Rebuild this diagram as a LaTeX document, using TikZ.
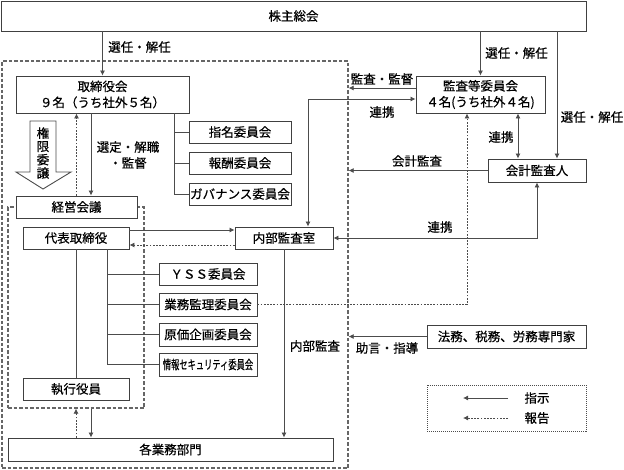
\documentclass[tikz,border=0pt]{standalone}
\usepackage{fontspec}
\setmainfont{Noto Sans CJK JP}[FakeBold=0.5]
\usepackage{graphicx}
\usetikzlibrary{arrows.meta}

\begin{document}
\begin{tikzpicture}
        [x=1pt,y=-1pt,font=\fontsize{12.5}{16}\selectfont]
            \tikzstyle{every node}=[inner sep=0pt]
            \tikzstyle{box}=[draw=black!75, line width=0.9pt, fill=white,
        minimum height=22pt, align=center]
            \tikzstyle{grp}=[draw=black!60, line width=1.3pt, dash pattern=on 3.5pt off 2pt]
            \tikzstyle{wire}=[draw=black!70, line width=0.8pt]
            \tikzstyle{arr}=[wire, -{Latex[length=5pt,width=5pt]}]
            \tikzstyle{rep}=[arr, dash pattern=on 1.8pt off 1.4pt]
            \tikzstyle{both}=[wire, {Latex[length=5pt,width=5pt]}-{Latex[length=5pt,width=5pt]}]
        \useasboundingbox (0,0) rectangle (624,469);
        %-----groups
         \node[grp, minimum width=346pt, minimum height=407pt] (outer) at (175,264.5) {};
         \node[grp, minimum width=136pt, minimum height=201pt] (inner) at (76,307.5) {};
        %-----boxes
         \node[box, minimum width=585pt, minimum height=30pt] (soukai) at (293.5,16) {株主総会};
         \node[box, minimum width=173pt, minimum height=37pt] (torikai) at (102.5,94.5) {取締役会\\９名（うち社外５名）};
         \node[box, minimum width=102pt] (shimei) at (240,132) {指名委員会};
         \node[box, minimum width=102pt] (houshu) at (240,163) {報酬委員会};
         \node[box, minimum width=102pt] (gov) at (240,194) {ガバナンス委員会};
         \node[box, minimum width=121pt] (keiei) at (76.5,207) {経営会議};
         \node[box, minimum width=106pt] (daihyo) at (76,238) {代表取締役};
         \node[box, minimum width=98pt] (naibu) at (284,238) {内部監査室};
         \node[box, minimum width=129pt, minimum height=37pt] (kansatou) at (480.5,94.5) {監査等委員会\\４名(うち社外４名)};
         \node[box, minimum width=98pt, minimum height=23pt] (kaikei) at (537,170.5) {会計監査人};
         \node[box, minimum width=98pt] (yss) at (208,274) {ＹＳＳ委員会};
         \node[box, minimum width=98pt, minimum height=23pt] (gyomu) at (208,304.5) {業務監理委員会};
         \node[box, minimum width=98pt, minimum height=23pt] (genka) at (208,334.5) {原価企画委員会};
         \node[box, minimum width=98pt, minimum height=23pt] (joho) at (208,364.5) {\scalebox{0.66}[1]{情報セキュリティ委員会}};
         \node[box, minimum width=106pt] (shikko) at (76,389) {執行役員};
         \node[box, minimum width=325pt, minimum height=23pt] (kakubu) at (170.5,449.5) {各業務部門};
         \node[box, minimum width=159pt, minimum height=23pt] (senmon) at (506.5,336.5) {法務、税務、労務専門家};
         \node[draw=black!70, line width=0.8pt, dash pattern=on 1pt off 1pt,
        minimum width=159pt, minimum height=46pt] (legend) at (506.5,408) {};

         % kengen arrow
         \draw[draw=black!70, line width=0.9pt, fill=white] (30,121) -- (56,121) -- (56,172) -- (71,172)
        -- (43,189) -- (16,172) -- (30,172) -- cycle;
         \node[align=center, font=\fontsize{12.5}{13.3}\selectfont] (kengen) at (43,153) {権\\限\\委\\譲};

        %-----labels
         \node (senA) at (139.5,47) {選任・解任};
         \node (senB) at (516.5,53) {選任・解任};
         \node (senC) at (592,117) {選任・解任};
         \node[align=center] (sentei) at (128,155) {選定・解職\\・監督};
         \node (kansa) at (382,79) {監査・監督};
         \node (renA) at (382,112) {連携};
         \node (renB) at (501,137) {連携};
         \node (kaikansa) at (417,161) {会計監査};
         \node (renC) at (440,227) {連携};
         \node (naikansa) at (315,346) {内部監査};
         \node (jogen) at (387,348) {助言・指導};
         \node (shiji) at (537,398) {指示};
         \node (hokoku) at (537,418) {報告};

        %-----helper points
         \coordinate (keiIn) at ([xshift=14.5pt]keiei.north);
         \coordinate (comBr) at ([xshift=-15pt]torikai.south east);
         \coordinate (kaiIn) at ([xshift=20pt]kaikei.north);
         \coordinate (kanOut) at ([yshift=6.5pt]kansatou.west);
         \coordinate (kanIn) at ([yshift=-4.5pt]kansatou.west);
         \coordinate (naiIn) at ([xshift=24pt]naibu.north);
         \coordinate (kaiTop) at ([xshift=-19pt]kaikei.north);
         \coordinate (kanBot) at ([xshift=-13.5pt]kansatou.south);
         \coordinate (daiOut) at ([yshift=8pt]daihyo.east);
         \coordinate (daiIn) at ([yshift=-7pt]daihyo.east);
         \coordinate (daiBr) at ([xshift=31pt]daihyo.south);
         \coordinate (grpOut) at ([xshift=15pt]inner.south);
         \coordinate (lgA) at (508,398);
         \coordinate (lgB) at (463,398);
         \coordinate (lgC) at (508,418);
         \coordinate (lgD) at (463,418);

        %-----connectors
         \draw[arr] (soukai.south -| torikai.north) -- (torikai.north);
         \draw[arr] (soukai.south -| kansatou.north) -- (kansatou.north);
         \draw[arr] (soukai.south -| kaiIn) -- (kaiIn);
         \draw[arr] (torikai.south -| keiIn) -- (keiIn);
         \draw[rep] (keiei.north) -- (keiei.north |- torikai.south);
         \draw[wire] (comBr) |- (gov.west);
         \draw[arr] (kanOut) -- (kanOut -| outer.east);
         \draw[both] (kanIn) -| (naiIn);
         \draw[both] (kansatou.south -| kaiTop) -- (kaiTop);
         \draw[arr] (kaikei.west) -- (kaikei.west -| outer.east);
         \draw[both] (kaikei.south) |- (naibu.east);
         \draw[rep] (gyomu.east) -| (kanBot);
         \draw[arr] (daiOut) -- (daiOut -| naibu.west);
         \draw[rep] (naibu.west |- daiIn) -- (daiIn);
         \draw[wire] (daiBr) |- (joho.west);
         \draw[wire] (daihyo.south) -- (shikko.north);
         \draw[arr] (naibu.south) -- (naibu.south |- kakubu.north);
         \draw[rep] (kakubu.north -| inner.south) -- (inner.south);
         \draw[arr] (grpOut) -- (grpOut |- kakubu.north);
         \draw[arr] (senmon.west) -- (senmon.west -| outer.east);
         \draw[arr] (lgA) -- (lgB);
         \draw[rep] (lgC) -- (lgD);

         \foreach \to in {shimei, houshu}
         \draw[wire] (comBr |- \to.west) -- (\to.west);
         \foreach \to in {yss, gyomu, genka}
         \draw[wire] (daiBr |- \to.west) -- (\to.west);

        \end{tikzpicture}
\end{document}
